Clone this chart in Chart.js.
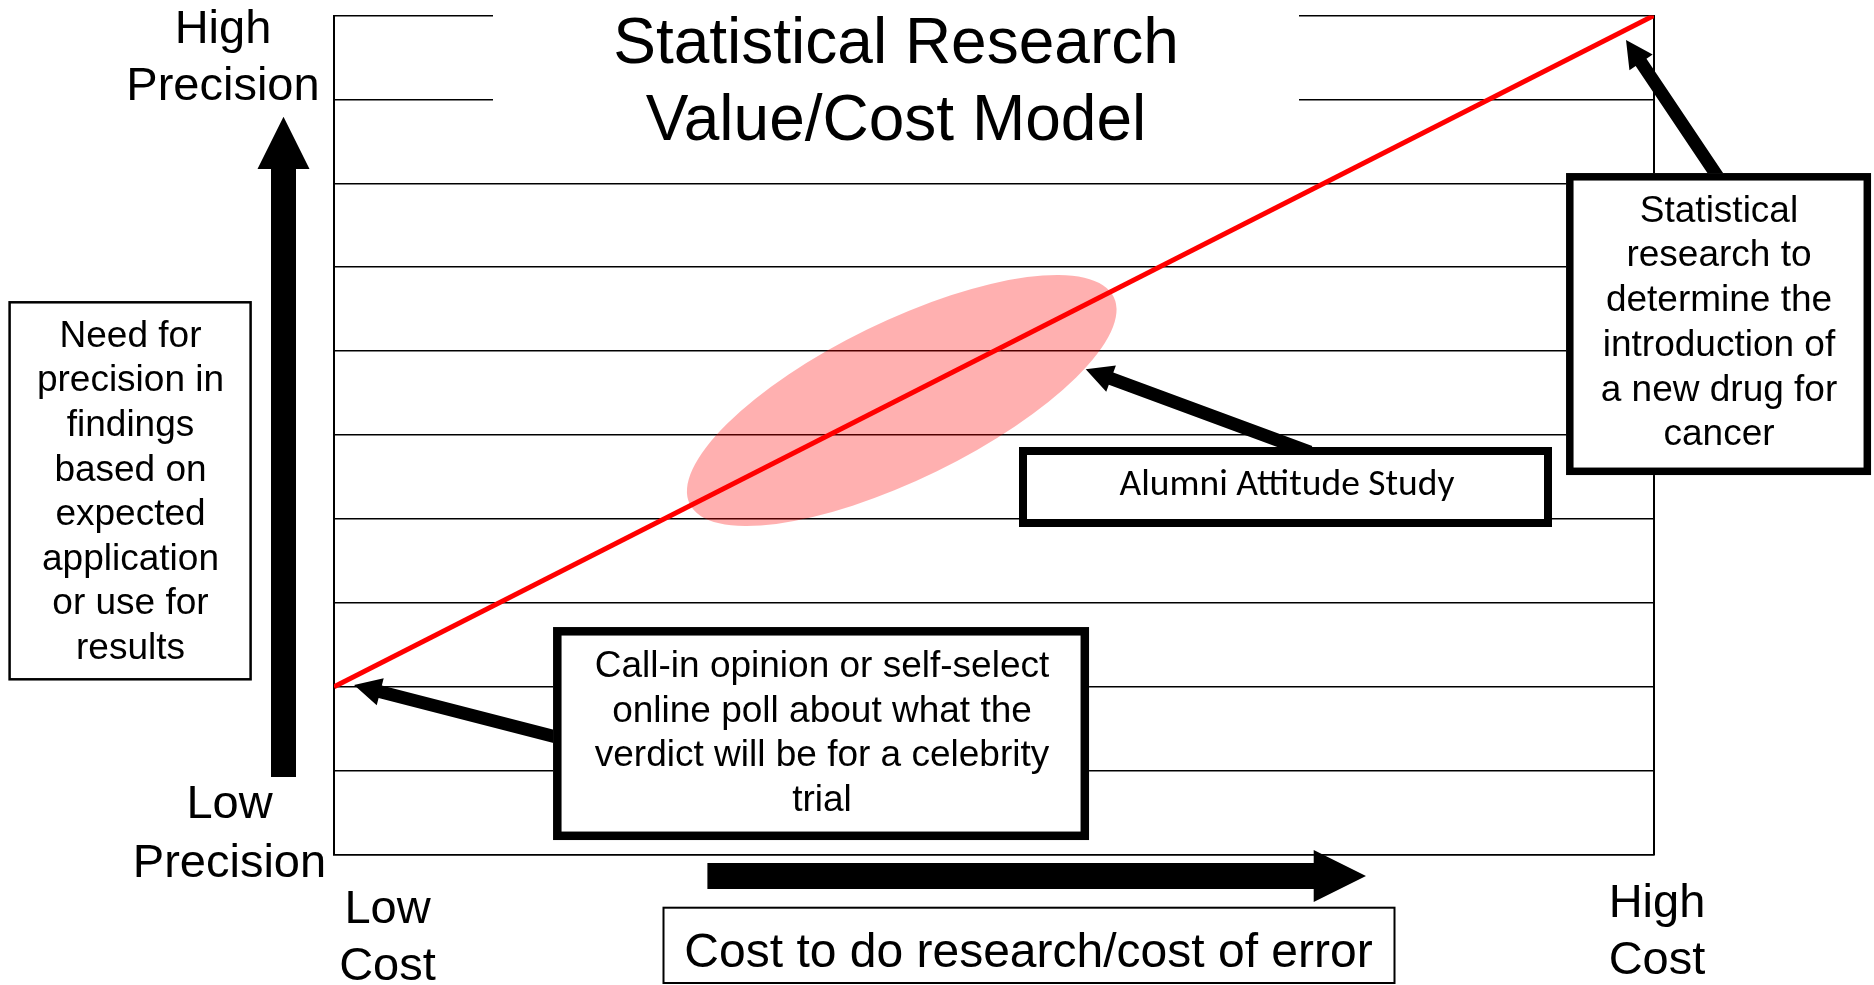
<!DOCTYPE html>
<html>
<head>
<meta charset="utf-8">
<title>Statistical Research Value/Cost Model</title>
<script src="https://cdn.jsdelivr.net/npm/chart.js@4.4.1/dist/chart.umd.min.js"></script>
<style>
  html, body { margin: 0; padding: 0; background: #ffffff; overflow: hidden; }
  #wrap { position: relative; width: 1874px; height: 985px; }
</style>
</head>
<body>
<div id="wrap"><canvas id="chart"></canvas></div>
<script>
// ---------------- data ----------------
const costValues = [0, 10];              // low cost -> high cost
const precisionValues = [2, 10];         // value/cost model line
const precisionGridMin = 0;
const precisionGridMax = 10;
const precisionGridStep = 1;
const alumniRegionX = [2.695, 5.907];    // major-axis end points of the Alumni Attitude Study region
const alumniRegionY = [4.177, 6.645];

const titleLines = ['Statistical Research', 'Value/Cost Model'];
const highPrecisionLabel = ['High', 'Precision'];
const lowPrecisionLabel = ['Low', 'Precision'];
const lowCostLabel = ['Low', 'Cost'];
const highCostLabel = ['High', 'Cost'];
const needLines = ['Need for', 'precision in', 'findings', 'based on', 'expected', 'application', 'or use for', 'results'];
const callInLines = ['Call-in opinion or self-select', 'online poll about what the', 'verdict will be for a celebrity', 'trial'];
const alumniLines = ['Alumni Attitude Study'];
const drugLines = ['Statistical', 'research to', 'determine the', 'introduction of', 'a new drug for', 'cancer'];
const costLines = ['Cost to do research/cost of error'];

// callout arrows, tail -> tip, in data units (cost, precision)
const callInArrowX = [1.712, 0.152];
const callInArrowY = [1.388, 2.020];
const alumniArrowX = [7.394, 5.695];
const alumniArrowY = [4.797, 5.783];
const drugArrowX = [10.50, 9.788];
const drugArrowY = [8.039, 9.708];

// ---------------- styles / layout ----------------
const ARIAL = '"Liberation Sans", Arial, Helvetica, sans-serif';
const CALIBRI = 'Carlito, Calibri, Lato, sans-serif';

const layout = {
  titleMask: { x: 493, y: 0, w: 806, h: 160 },
  title: { cx: 896, y0: 63.3, lh: 77, font: '64px ' + ARIAL },
  highPrec: { cx: 223, y0: 42.7, lh: 57.3, font: '47px ' + ARIAL },
  lowPrec: { cx: 229.5, y0: 818.3, lh: 58.4, font: '47px ' + ARIAL },
  lowCost: { cx: 387.5, y0: 923.3, lh: 56.7, font: '47px ' + ARIAL },
  highCost: { cx: 1657, y0: 916.7, lh: 57.3, font: '47px ' + ARIAL },
  needBox: { x: 9.6, y: 302.3, w: 241, h: 377, lw: 2.5 },
  needText: { cx: 130.5, y0: 346.7, lh: 44.6, font: '37px ' + ARIAL },
  callBox: { x: 557.3, y: 631.3, w: 527.5, h: 204.5, lw: 8.5 },
  callText: { cx: 822, y0: 676.7, lh: 44.8, font: '37px ' + ARIAL },
  alumniBox: { x: 1023, y: 451, w: 525, h: 72, lw: 8 },
  alumniText: { cx: 1287, y0: 495, lh: 40, font: '37.5px ' + CALIBRI },
  drugBox: { x: 1569.8, y: 176.8, w: 297.5, h: 294.5, lw: 7.5 },
  drugText: { cx: 1719, y0: 221.7, lh: 44.7, font: '37px ' + ARIAL },
  costBox: { x: 663.5, y: 907.7, w: 731, h: 75.3, lw: 2 },
  costText: { cx: 1028.5, y0: 966.7, lh: 50, font: '48px ' + ARIAL },
  upArrow: { x0: 283.5, y0: 777, x1: 283.5, y1: 116.7, shaft: 25, headW: 52, headL: 52.3 },
  rightArrow: { x0: 707.4, y0: 876, x1: 1366, y1: 876, shaft: 26, headW: 52, headL: 52.3 },
  callout: { shaft: 13, headW: 28, headL: 27 },
  ellipseMinor: 79,
  ellipseColor: 'rgba(255, 0, 0, 0.31)',
  lineColor: '#ff0000'
};

function drawLines(ctx, lines, spec) {
  ctx.save();
  ctx.fillStyle = '#000';
  ctx.font = spec.font;
  ctx.textAlign = 'center';
  ctx.textBaseline = 'alphabetic';
  lines.forEach((t, i) => ctx.fillText(t, spec.cx, spec.y0 + i * spec.lh));
  ctx.restore();
}

function drawBox(ctx, b) {
  ctx.save();
  ctx.fillStyle = '#fff';
  ctx.fillRect(b.x - b.lw / 2, b.y - b.lw / 2, b.w + b.lw, b.h + b.lw);
  ctx.strokeStyle = '#000';
  ctx.lineWidth = b.lw;
  ctx.lineJoin = 'miter';
  ctx.strokeRect(b.x, b.y, b.w, b.h);
  ctx.restore();
}

function blockArrow(ctx, x0, y0, x1, y1, shaft, headW, headL) {
  const dx = x1 - x0, dy = y1 - y0, L = Math.hypot(dx, dy);
  const ux = dx / L, uy = dy / L, px = -uy, py = ux;
  const bx = x1 - ux * headL, by = y1 - uy * headL;
  ctx.save();
  ctx.fillStyle = '#000';
  ctx.beginPath();
  ctx.moveTo(x0 + px * shaft / 2, y0 + py * shaft / 2);
  ctx.lineTo(bx + px * shaft / 2, by + py * shaft / 2);
  ctx.lineTo(bx + px * headW / 2, by + py * headW / 2);
  ctx.lineTo(x1, y1);
  ctx.lineTo(bx - px * headW / 2, by - py * headW / 2);
  ctx.lineTo(bx - px * shaft / 2, by - py * shaft / 2);
  ctx.lineTo(x0 - px * shaft / 2, y0 - py * shaft / 2);
  ctx.closePath();
  ctx.fill();
  ctx.restore();
}

const modelPlugin = {
  id: 'modelPlugin',
  beforeDatasetsDraw(chart) {
    const ctx = chart.ctx, xs = chart.scales.x, ys = chart.scales.y;
    const m = layout.titleMask;
    ctx.save();
    ctx.fillStyle = '#fff';
    ctx.fillRect(m.x, m.y, m.w, m.h);
    ctx.restore();
    drawLines(ctx, titleLines, layout.title);
    const p1x = xs.getPixelForValue(alumniRegionX[0]), p1y = ys.getPixelForValue(alumniRegionY[0]);
    const p2x = xs.getPixelForValue(alumniRegionX[1]), p2y = ys.getPixelForValue(alumniRegionY[1]);
    const cx = (p1x + p2x) / 2, cy = (p1y + p2y) / 2;
    const a = Math.hypot(p2x - p1x, p2y - p1y) / 2;
    const ang = Math.atan2(p2y - p1y, p2x - p1x);
    ctx.save();
    ctx.fillStyle = layout.ellipseColor;
    ctx.beginPath();
    ctx.ellipse(cx, cy, a, layout.ellipseMinor, ang, 0, Math.PI * 2);
    ctx.fill();
    ctx.restore();
  },
  afterDatasetsDraw(chart) {
    const ctx = chart.ctx, xs = chart.scales.x, ys = chart.scales.y;
    const c = layout.callout;
    const arrow = (ax, ay) => blockArrow(ctx,
      xs.getPixelForValue(ax[0]), ys.getPixelForValue(ay[0]),
      xs.getPixelForValue(ax[1]), ys.getPixelForValue(ay[1]),
      c.shaft, c.headW, c.headL);
    arrow(callInArrowX, callInArrowY);
    arrow(alumniArrowX, alumniArrowY);
    arrow(drugArrowX, drugArrowY);

    const u = layout.upArrow, r = layout.rightArrow;
    blockArrow(ctx, u.x0, u.y0, u.x1, u.y1, u.shaft, u.headW, u.headL);
    blockArrow(ctx, r.x0, r.y0, r.x1, r.y1, r.shaft, r.headW, r.headL);

    drawBox(ctx, layout.needBox);
    drawLines(ctx, needLines, layout.needText);
    drawBox(ctx, layout.callBox);
    drawLines(ctx, callInLines, layout.callText);
    drawBox(ctx, layout.alumniBox);
    drawLines(ctx, alumniLines, layout.alumniText);
    drawBox(ctx, layout.drugBox);
    drawLines(ctx, drugLines, layout.drugText);
    drawBox(ctx, layout.costBox);
    drawLines(ctx, costLines, layout.costText);

    drawLines(ctx, highPrecisionLabel, layout.highPrec);
    drawLines(ctx, lowPrecisionLabel, layout.lowPrec);
    drawLines(ctx, lowCostLabel, layout.lowCost);
    drawLines(ctx, highCostLabel, layout.highCost);
  }
};

new Chart(document.getElementById('chart'), {
  type: 'scatter',
  data: {
    datasets: [{
      label: 'Value/Cost Model',
      data: costValues.map((x, i) => ({ x: x, y: precisionValues[i] })),
      showLine: true,
      borderColor: layout.lineColor,
      backgroundColor: layout.lineColor,
      borderWidth: 5,
      pointRadius: 0,
      fill: false,
      tension: 0
    }]
  },
  options: {
    responsive: true,
    maintainAspectRatio: false,
    animation: false,
    events: [],
    layout: { padding: { left: 334, right: 220, top: 15.5, bottom: 130.5 } },
    plugins: { legend: { display: false }, tooltip: { enabled: false }, title: { display: false } },
    scales: {
      x: {
        type: 'linear', position: 'bottom', min: costValues[0], max: costValues[1],
        grid: { display: false, drawTicks: false },
        ticks: { display: false },
        border: { display: true, color: '#000', width: 1.5 },
        afterFit(s) { s.height = 0; }
      },
      y: {
        type: 'linear', position: 'left', min: precisionGridMin, max: precisionGridMax,
        ticks: { display: false, stepSize: precisionGridStep },
        grid: { color: '#000', lineWidth: 1.5, drawTicks: false },
        border: { display: true, color: '#000', width: 2 },
        afterFit(s) { s.width = 0; }
      },
      y2: {
        type: 'linear', position: 'right', min: precisionGridMin, max: precisionGridMax,
        display: true,
        ticks: { display: false },
        grid: { display: false, drawTicks: false },
        border: { display: true, color: '#000', width: 2 },
        afterFit(s) { s.width = 0; }
      }
    }
  },
  plugins: [modelPlugin]
});
</script>
</body>
</html>
